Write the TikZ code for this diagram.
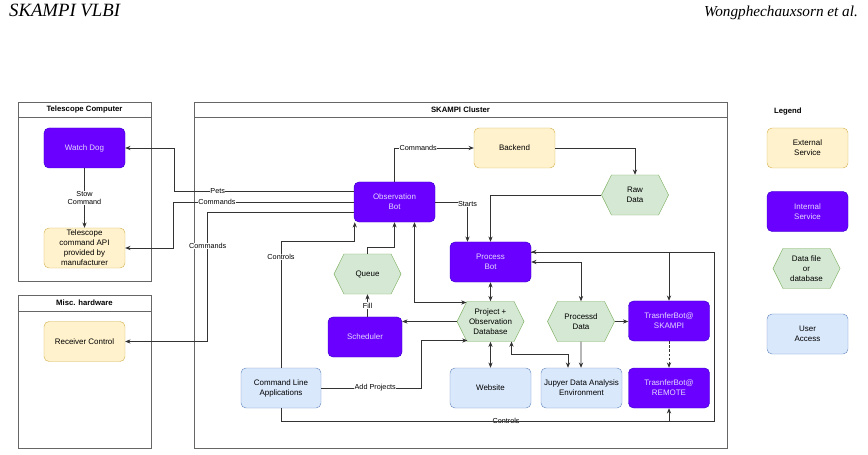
\documentclass[tikz,border=0pt]{standalone}
\usepackage{fontspec}
\setmainfont{Liberation Serif}
\setsansfont{Liberation Sans}
\usepackage{tikz}
\usetikzlibrary{arrows.meta,calc,positioning,shapes.symbols}
\definecolor{extfill}{HTML}{FFF2CC}
\definecolor{extline}{HTML}{D6B656}
\definecolor{intfill}{HTML}{6A00FF}
\definecolor{intline}{HTML}{3700CC}
\definecolor{inttext}{HTML}{E4D8FF}
\definecolor{datafill}{HTML}{D5E8D4}
\definecolor{dataline}{HTML}{82B366}
\definecolor{userfill}{HTML}{DAE8FC}
\definecolor{userline}{HTML}{6C8EBF}
\definecolor{framegray}{HTML}{666666}
\definecolor{wire}{HTML}{333333}
\tikzset{
  service/.style={
    rectangle,
    rounded corners=0.15cm,
    minimum width=2.43cm,
    minimum height=1.2cm,
    inner sep=1pt,
    align=center,
    font=\sffamily\fontsize{6.8}{8.5}\selectfont
  },
  external/.style={service, draw=extline, fill=extfill},
  internal/.style={service, draw=intline, fill=intfill, text=inttext},
  useraccess/.style={service, draw=userline, fill=userfill},
  datafile/.style={
    signal,
    signal to=east and west,
    signal pointer angle=127,
    draw=dataline,
    fill=datafill,
    minimum width=2.01cm,
    minimum height=1.2cm,
    inner sep=0pt,
    align=center,
    font=\sffamily\fontsize{6.8}{8.5}\selectfont
  },
  container/.style={draw=framegray, line width=0.6pt},
  containertitle/.style={font=\sffamily\bfseries\fontsize{6.6}{8}\selectfont},
  connection/.style={
    draw=wire,
    line width=0.55pt,
    -{Stealth[length=4.5pt,width=3.6pt]}
  },
  biconnection/.style={
    connection,
    {Stealth[length=4.5pt,width=3.6pt]}-{Stealth[length=4.5pt,width=3.6pt]}
  },
  wirelabel/.style={
    fill=white,
    inner sep=0.4pt,
    align=center,
    font=\sffamily\fontsize{6.2}{7.6}\selectfont
  }
}

\begin{document}
\begin{tikzpicture}[x=0.03cm, y=-0.03cm]
  \useasboundingbox (0,0) rectangle (868,455);

  % Running head
  \node[anchor=base west, font=\itshape\fontsize{16}{18}\selectfont] (runhead) at (5,16.5) {SKAMPI VLBI};
  \node[anchor=base east, font=\itshape\fontsize{13}{15}\selectfont] (authors) at (862,16.5) {Wongphechauxsorn et al.};

  % Telescope Computer
  \draw[container] (18,102) rectangle (151,281);
  \draw[container] (18,117) -- (151,117);
  \node[containertitle] (telescope) at (84.5,109.5) {Telescope Computer};
  \node[internal] (watchdog) at (84.5,148) {Watch Dog};
  \node[external] (telapi) at (84.5,248) {Telescope\\command API\\provided by\\manufacturer};

  % Misc. hardware
  \draw[container] (18,295) rectangle (151,448);
  \draw[container] (18,311) -- (151,311);
  \node[containertitle] (mischw) at (84.5,303) {Misc. hardware};
  \node[external] (receiver) at (84.5,341.5) {Receiver Control};

  % SKAMPI Cluster
  \draw[container] (194,102) rectangle (727,448);
  \draw[container] (194,117) -- (727,117);
  \node[containertitle] (cluster) at (460.5,109.5) {SKAMPI Cluster};
  \node[external] (backend) at (514.5,148) {Backend};
  \node[datafile] (rawdata) at (635,195) {Raw\\Data};
  \node[internal] (obsbot) at (394.5,202) {Observation\\Bot};
  \node[internal] (procbot) at (490.5,262) {Process\\Bot};
  \node[datafile] (queue) at (367.5,274) {Queue};
  \node[internal, minimum width=2.22cm] (scheduler) at (365,337) {Scheduler};
  \node[useraccess, minimum width=2.4cm] (cli) at (281,388) {Command Line\\Applications};
  \node[datafile] (projdb) at (490.5,321.5) {Project +\\Observation\\Database};
  \node[datafile] (procdata) at (581,321.5) {Processd\\Data};
  \node[internal] (tbskampi) at (669,321) {TrasnferBot@\\SKAMPI};
  \node[useraccess] (website) at (490.5,388) {Website};
  \node[useraccess] (jupyter) at (581.5,388) {Jupyer Data Analysis\\Environment};
  \node[internal] (tbremote) at (669,388) {TrasnferBot@\\REMOTE};

  % Legend
  \node[containertitle, anchor=west] (legend) at (770,112) {Legend};
  \node[external] (extkey) at (807.5,148) {External\\Service};
  \node[internal] (intkey) at (807.5,211.5) {Internal\\Service};
  \node[datafile] (datakey) at (806.5,268.5) {Data file\\or\\database};
  \node[useraccess] (userkey) at (807.5,334) {User\\Access};

  % Telescope side
  \draw[connection] (watchdog) -- node[wirelabel] {Stow\\Command} (telapi);
  \draw[connection] ([shift={(0,-11)}]obsbot.west) -- node[wirelabel, pos=0.76] {Pets} ++(-179,0) |- (watchdog);
  \draw[connection] (obsbot.west) -- node[wirelabel, pos=0.76] {Commands} ++(-180,0) |- (telapi);
  \draw[connection] ([shift={(0,10)}]obsbot.west) -- ++(-146,0) |- node[wirelabel, pos=0.13] {Commands} (receiver);

  % Observation side
  \draw[connection] (cli.north) -- node[wirelabel, pos=0.88] {Controls} ++(0,-126) -| ([shift={(1,0)}]obsbot.south west);
  \draw[connection] (queue.north) -- ++(0,-6) -| (obsbot.south);
  \draw[biconnection] ([shift={(20,0)}]obsbot.south) |- ([shift={(-24,-19)}]projdb.center);
  \draw[connection] (scheduler.north -| queue.south) -- node[wirelabel] {Fill} (queue.south);
  \draw[connection] (projdb.west) -- (projdb.west -| scheduler.east);
  \draw[connection] (cli.east) -- node[wirelabel, pos=0.54] {Add Projects} ++(100,0) |- ([shift={(-23,19)}]projdb.center);
  \draw[connection] (obsbot.north) |- node[wirelabel, pos=0.65] {Commands} (backend.west);
  \draw[connection] (obsbot.east) -| node[wirelabel, pos=0.53] {Starts} ([shift={(-23,0)}]procbot.north);

  % Processing side
  \draw[connection] (backend.east) -| (rawdata.north);
  \draw[connection] (rawdata.west) -| (procbot.north);
  \draw[biconnection] (procbot) -- (projdb);
  \draw[biconnection] (projdb) -- (website);
  \draw[biconnection] ([shift={(21,20)}]projdb.center) -- ++(0,13) -| ([shift={(-13.5,0)}]jupyter.north);
  \draw[connection] (procdata) -- (procdata |- jupyter.north);
  \draw[connection] (procdata.east) -- (procdata.east -| tbskampi.west);
  \draw[biconnection] (procbot.east) -| (procdata.north);

  % Transfer bots
  \draw[connection] (cli.south) -- ++(0,13) -| node[wirelabel, pos=0.29] {Controls} (tbremote.south);
  \draw[connection] (cli.south) -- ++(0,13) -- ++(433,0) |- ([shift={(0,-10)}]procbot.east);
  \draw[connection] ([shift={(0,-10)}]procbot.east) -| (tbskampi.north);
  \draw[connection, dash pattern=on 2pt off 1.5pt] (tbskampi) -- (tbremote);
\end{tikzpicture}
\end{document}
